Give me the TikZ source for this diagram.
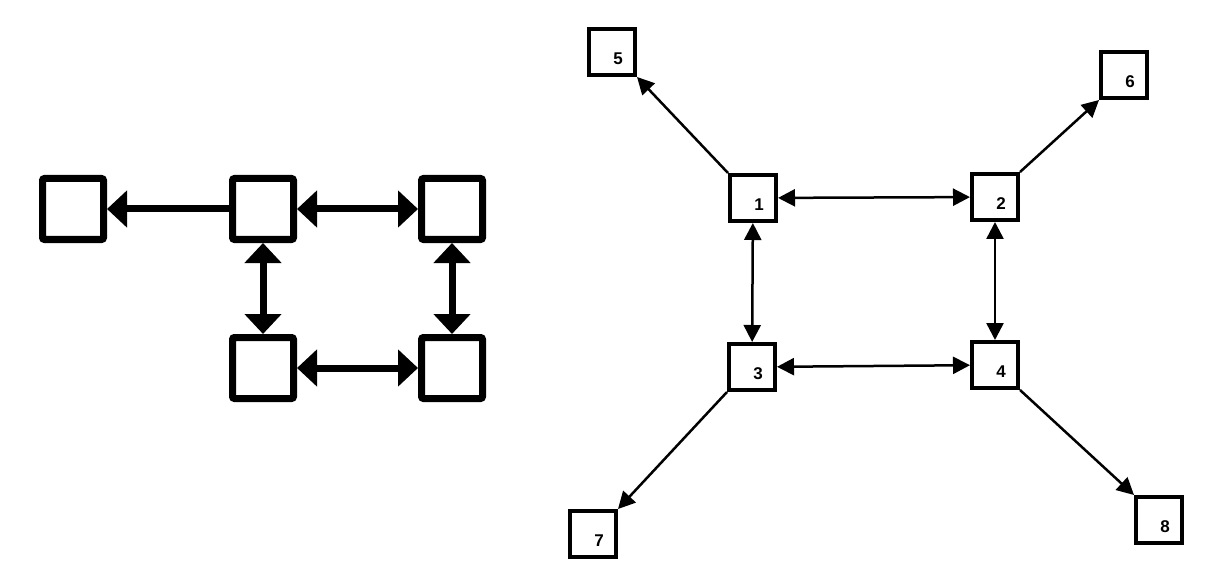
\documentclass[tikz,border=0pt]{standalone}
\usepackage{fontspec}
\setmainfont{Liberation Sans}
\usetikzlibrary{arrows.meta}

\begin{document}
\begin{tikzpicture}[x=1pt, y=-1pt,
    bigbox/.style={draw, line width=7pt, minimum size=61pt, inner sep=0pt, rounded corners=2pt},
    smallbox/.style={draw, line width=4pt, minimum size=46pt, inner sep=0pt,
      label={[font=\bfseries\fontsize{17}{17}\selectfont, xshift=6pt, yshift=-7pt]center:#1}},
    bigone/.style={line width=7pt, -{Triangle[length=20pt,width=36pt]}},
    bigtwo/.style={line width=7pt, {Triangle[length=20pt,width=36pt]}-{Triangle[length=20pt,width=36pt]}},
    thinone/.style={line width=2.5pt, -{Triangle[length=17pt,width=17pt]}},
    thintwo/.style={line width=2.5pt, {Triangle[length=17pt,width=17pt]}-{Triangle[length=17pt,width=17pt]}}]
  \useasboundingbox (0,0) rectangle (1210,580);
  % left block
  \node[bigbox] (a0) at (73,209) {};
  \node[bigbox] (a1) at (263,209) {};
  \node[bigbox] (a2) at (452,209) {};
  \node[bigbox] (a3) at (263,368) {};
  \node[bigbox] (a4) at (452,368) {};
  \draw[bigone] (a1) -- (a0);
  \draw[bigtwo] (a1) -- (a2);
  \draw[bigtwo] (a1) -- (a3);
  \draw[bigtwo] (a2) -- (a4);
  \draw[bigtwo] (a3) -- (a4);
  % right block, numbered
  \node[smallbox=1] (n1) at (753,198) {};
  \node[smallbox=2] (n2) at (995,197) {};
  \node[smallbox=3] (n3) at (752,367) {};
  \node[smallbox=4] (n4) at (995,365) {};
  \node[smallbox=5] (n5) at (612,52) {};
  \node[smallbox=6] (n6) at (1124,75) {};
  \node[smallbox=7] (n7) at (593,534) {};
  \node[smallbox=8] (n8) at (1159,520) {};
  \draw[thintwo] (n1) -- (n2);
  \draw[thintwo] (n1) -- (n3);
  \draw[thintwo] (n2) -- (n4);
  \draw[thintwo] (n3) -- (n4);
  \draw[thinone] (n1.north west) -- (n5.south east);
  \draw[thinone] (n2.north east) -- (n6.south west);
  \draw[thinone] (n3.south west) -- (n7.north east);
  \draw[thinone] (n4.south east) -- (n8.north west);
\end{tikzpicture}
\end{document}
